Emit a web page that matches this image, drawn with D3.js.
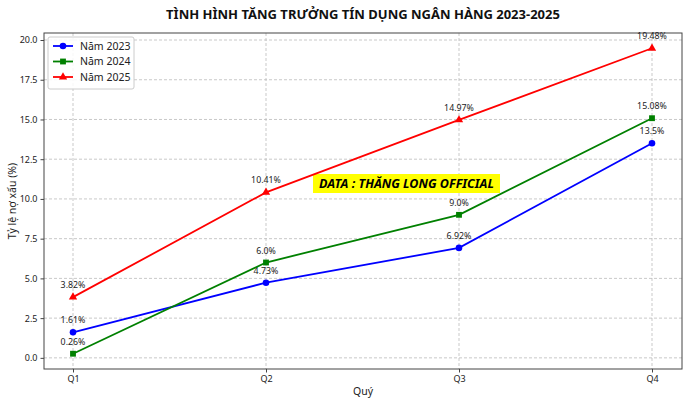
<!DOCTYPE html>
<html><head><meta charset="utf-8">
<script src="https://cdn.jsdelivr.net/npm/d3@7"></script>
<style>body{margin:0;background:#fff}svg{display:block}</style>
</head><body>
<svg id="c" width="690" height="402"></svg>
<script>
const quarters = ["Q1","Q2","Q3","Q4"];
const s2023 = [1.61, 4.73, 6.92, 13.5];
const s2024 = [0.26, 6.0, 9.0, 15.08];
const s2025 = [3.82, 10.41, 14.97, 19.48];
const seriesNames = ["Năm 2023","Năm 2024","Năm 2025"];
const yTicks = [0,2.5,5,7.5,10,12.5,15,17.5,20];
const labels2023 = ["1.61%","4.73%","6.92%","13.5%"];
const labels2024 = ["0.26%","6.0%","9.0%","15.08%"];
const labels2025 = ["3.82%","10.41%","14.97%","19.48%"];

const series = [
  {name: seriesNames[0], values: s2023, labels: labels2023, color: "#0000ff", marker: "circle"},
  {name: seriesNames[1], values: s2024, labels: labels2024, color: "#008000", marker: "square"},
  {name: seriesNames[2], values: s2025, labels: labels2025, color: "#ff0000", marker: "triangle"}
];

const svg = d3.select("#c");
const L = 44, R = 682, T = 33, B = 369;
const font = "'Noto Sans', 'Open Sans', sans-serif";

const x = d3.scalePoint().domain(quarters).range([73, 652]);
const allV = [...s2023, ...s2024, ...s2025];
const vmin = d3.min(allV), vmax = d3.max(allV), pad = (vmax - vmin) * 0.05;
const y = d3.scaleLinear().domain([vmin - pad, vmax + pad]).range([B, T]);

// grid
const g = svg.append("g");
g.selectAll(".gy").data(yTicks).join("line")
  .attr("x1", L).attr("x2", R).attr("y1", d => y(d)).attr("y2", d => y(d))
  .attr("stroke", "#bbb").attr("stroke-width", 0.8).attr("stroke-dasharray", "3,2");
g.selectAll(".gx").data(quarters).join("line")
  .attr("x1", d => x(d)).attr("x2", d => x(d)).attr("y1", T).attr("y2", B)
  .attr("stroke", "#bbb").attr("stroke-width", 0.8).attr("stroke-dasharray", "3,2");

// axes
const ax = svg.append("g").attr("transform", `translate(0,${B})`)
  .call(d3.axisBottom(x).tickSize(3.5).tickPadding(3));
const ay = svg.append("g").attr("transform", `translate(${L},0)`)
  .call(d3.axisLeft(y).tickValues(yTicks).tickFormat(d3.format(".1f")).tickSize(3.5).tickPadding(3));
[ax, ay].forEach(a => {
  a.select(".domain").remove();
  a.selectAll("text").attr("font-family", font).attr("font-size", 9).attr("fill", "#222");
  a.selectAll("line").attr("stroke", "#444");
});
svg.append("rect").attr("x", L).attr("y", T).attr("width", R - L).attr("height", B - T)
  .attr("fill", "none").attr("stroke", "#444").attr("stroke-width", 1);

// watermark
const wmX = 313, wmY = 174;
svg.append("rect").attr("x", wmX).attr("y", wmY).attr("width", 187).attr("height", 19).attr("fill", "#ffff00");
svg.append("text").attr("x", wmX + 93.5).attr("y", wmY + 14).attr("text-anchor", "middle")
  .attr("font-family", font).attr("font-size", 12.5).attr("font-weight", "bold").attr("font-style", "italic")
  .attr("fill", "#000").text("DATA : THĂNG LONG OFFICIAL");

// lines
const line = d3.line().x((d, i) => x(quarters[i])).y(d => y(d));
const symType = {circle: d3.symbolCircle, square: d3.symbolSquare, triangle: d3.symbolTriangle};
const symSize = {circle: 34, square: 34, triangle: 30};

series.forEach(s => {
  svg.append("path").datum(s.values).attr("d", line).attr("fill", "none")
    .attr("stroke", s.color).attr("stroke-width", 1.8);
  svg.selectAll(null).data(s.values).join("path")
    .attr("transform", (d, i) => `translate(${x(quarters[i])},${y(d)})`)
    .attr("d", d3.symbol().type(symType[s.marker]).size(symSize[s.marker]))
    .attr("fill", s.color);
  svg.selectAll(null).data(s.values).join("text")
    .attr("x", (d, i) => x(quarters[i])).attr("y", d => y(d) - 9)
    .attr("text-anchor", "middle").attr("font-family", font).attr("font-size", 8.8).attr("fill", "#222")
    .text((d, i) => s.labels[i]);
});

// legend
const lg = svg.append("g").attr("transform", "translate(48,37)");
lg.append("rect").attr("width", 86).attr("height", 52).attr("rx", 2).attr("fill", "#fff")
  .attr("fill-opacity", 0.85).attr("stroke", "#ccc");
series.forEach((s, i) => {
  const yy = 9 + i * 15.5;
  lg.append("line").attr("x1", 5).attr("x2", 25).attr("y1", yy).attr("y2", yy)
    .attr("stroke", s.color).attr("stroke-width", 1.8);
  lg.append("path").attr("transform", `translate(15,${yy})`)
    .attr("d", d3.symbol().type(symType[s.marker]).size(symSize[s.marker])).attr("fill", s.color);
  lg.append("text").attr("x", 32).attr("y", yy + 3.8).attr("font-family", font).attr("font-size", 10.5)
    .attr("fill", "#222").text(s.name);
});

// title and axis labels
svg.append("text").attr("x", (L + R) / 2).attr("y", 19).attr("text-anchor", "middle")
  .attr("font-family", font).attr("font-size", 13).attr("font-weight", "bold").attr("fill", "#111")
  .text("TÌNH HÌNH TĂNG TRƯỞNG TÍN DỤNG NGÂN HÀNG 2023-2025");
svg.append("text").attr("x", (L + R) / 2).attr("y", 395).attr("text-anchor", "middle")
  .attr("font-family", font).attr("font-size", 10.5).attr("fill", "#222").text("Quý");
svg.append("text").attr("transform", `translate(16,${(T + B) / 2}) rotate(-90)`).attr("text-anchor", "middle")
  .attr("font-family", font).attr("font-size", 10.5).attr("fill", "#222").text("Tỷ lệ nợ xấu (%)");
</script>
</body></html>
